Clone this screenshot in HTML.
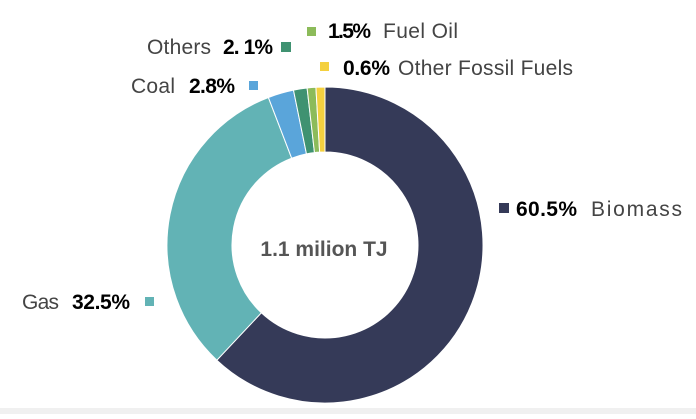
<!DOCTYPE html>
<html><head><style>
body{margin:0;width:696px;height:414px;background:#fff;overflow:hidden;font-family:"Liberation Sans",sans-serif}
svg text{font-family:"Liberation Sans",sans-serif;font-size:21px;fill:#444}
.b{font-weight:bold;fill:#000}
</style></head><body>
<svg width="696" height="414" viewBox="0 0 696 414">
<rect x="0" y="408" width="696" height="6" fill="#f0f0f0"/>
<g stroke="#fff" stroke-width="1">
<path d="M325,87 A158,158 0 1 1 216.85,360.18 L261.34,312.80 A93,93 0 1 0 325,152 Z" fill="#353a58"/>
<path d="M216.85,360.18 A158,158 0 0 1 268.38,97.49 L291.67,158.18 A93,93 0 0 0 261.34,312.80 Z" fill="#62b3b5"/>
<path d="M268.38,97.49 A158,158 0 0 1 293.50,90.18 L306.46,153.87 A93,93 0 0 0 291.67,158.18 Z" fill="#5aa5da"/>
<path d="M293.50,90.18 A158,158 0 0 1 307.11,88.01 L314.47,152.60 A93,93 0 0 0 306.46,153.87 Z" fill="#3f9271"/>
<path d="M307.11,88.01 A158,158 0 0 1 315.90,87.27 L319.64,152.16 A93,93 0 0 0 314.47,152.60 Z" fill="#8cbb5a"/>
<path d="M315.90,87.27 A158,158 0 0 1 325,87 L325,152 A93,93 0 0 0 319.64,152.16 Z" fill="#f4d03f"/>
</g>
<text x="324" y="256" text-anchor="middle" style="font-weight:bold;fill:#555;font-size:21px">1.1 milion TJ</text>

<text x="147" y="54" textLength="64">Others</text>
<text x="223" y="54" class="b" textLength="50">2. 1%</text>
<rect x="281" y="42" width="10" height="10" fill="#3f9271"/>

<rect x="307" y="27" width="9" height="9" fill="#8cbb5a"/>
<text x="328" y="38" class="b" textLength="43">1.5%</text>
<text x="383" y="38" textLength="75">Fuel Oil</text>

<rect x="320" y="62" width="9" height="9" fill="#f4d03f"/>
<text x="343" y="75" class="b" textLength="47">0.6%</text>
<text x="398" y="75" textLength="175">Other Fossil Fuels</text>

<text x="131" y="93" textLength="44">Coal</text>
<text x="189" y="93" class="b" textLength="46">2.8%</text>
<rect x="249" y="81" width="9" height="9" fill="#5aa5da"/>

<rect x="499" y="203" width="10" height="10" fill="#353a58"/>
<text x="516" y="216" class="b" textLength="61">60.5%</text>
<text x="591" y="216" textLength="91">Biomass</text>

<text x="22" y="309" textLength="37">Gas</text>
<text x="72" y="309" class="b" textLength="58">32.5%</text>
<rect x="145" y="297" width="9" height="9" fill="#62b3b5"/>
</svg>
</body></html>
